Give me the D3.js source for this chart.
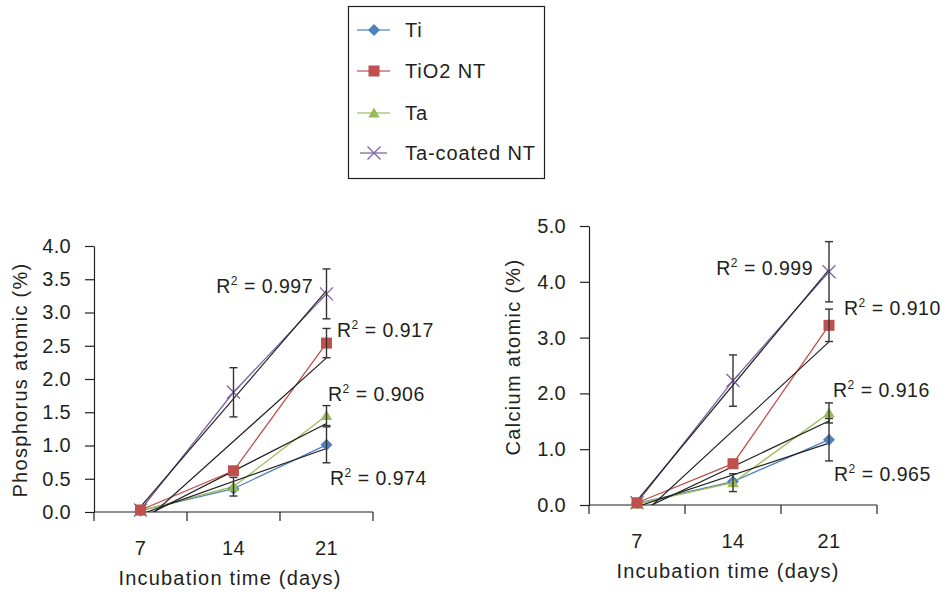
<!DOCTYPE html>
<html>
<head>
<meta charset="utf-8">
<script src="https://cdn.jsdelivr.net/npm/d3@7"></script>
<style>
  body { margin: 0; background: #fff; }
  text { font-family: 'Liberation Sans', Arial, sans-serif; fill: #231f20; }
</style>
</head>
<body>
<script>
// Categories and series
const days = [7, 14, 21];
const seriesNames = ['Ti', 'TiO2 NT', 'Ta', 'Ta-coated NT'];
const seriesColors = ['#4f81bd', '#c0504d', '#9bbb59', '#8064a2'];

// Phosphorus atomic (%) per series: Ti, TiO2 NT, Ta, Ta-coated NT
const phosValues = [
  [0.02, 0.35, 1.01],
  [0.03, 0.62, 2.54],
  [0.02, 0.38, 1.45],
  [0.03, 1.80, 3.28]
];
const phosErrors = [
  [0, 0, 0.27],
  [0, 0, 0.22],
  [0, 0.14, 0.15],
  [0, 0.37, 0.375]
];
const phosR2 = ['0.974', '0.917', '0.906', '0.997'];
const phosTicks = [0, 0.5, 1.0, 1.5, 2.0, 2.5, 3.0, 3.5, 4.0];

// Calcium atomic (%)
const caValues = [
  [0.03, 0.42, 1.17],
  [0.04, 0.74, 3.22],
  [0.02, 0.40, 1.65],
  [0.04, 2.23, 4.18]
];
const caErrors = [
  [0, 0, 0.38],
  [0, 0, 0.29],
  [0, 0.16, 0.18],
  [0, 0.46, 0.54]
];
const caR2 = ['0.965', '0.910', '0.916', '0.999'];
const caTicks = [0, 1.0, 2.0, 3.0, 4.0, 5.0];

// draw order of markers (red square ends up on top at day 7)
const markerOrder = [3, 0, 2, 1];

const svg = d3.select('body').append('svg')
  .attr('width', 946)
  .attr('height', 593);

// marker shapes, centred on 0,0
function drawMarker(g, i, color) {
  if (i === 0) {
    g.append('path').attr('d', 'M0,-6L6,0L0,6L-6,0Z').attr('fill', color);
  } else if (i === 1) {
    g.append('rect').attr('x', -5.5).attr('y', -5.5).attr('width', 11).attr('height', 11).attr('fill', color);
  } else if (i === 2) {
    g.append('path').attr('d', 'M0,-5.5L5.8,4.5L-5.8,4.5Z').attr('fill', color);
  } else {
    g.append('path').attr('d', 'M-6.5,-6.5L6.5,6.5M-6.5,6.5L6.5,-6.5')
      .attr('stroke', color).attr('stroke-width', 1.3).attr('fill', 'none');
  }
}

function linearFit(vals) {
  const xs = vals.map((d, i) => i + 1);
  const mx = d3.mean(xs), my = d3.mean(vals);
  const slope = d3.sum(xs, (x, i) => (x - mx) * (vals[i] - my)) / d3.sum(xs, x => (x - mx) ** 2);
  return { slope, intercept: my - slope * mx };
}

function drawPanel(cfg) {
  const x = d3.scaleBand().domain(days).range(cfg.xRange).padding(0);
  const y = d3.scaleLinear().domain(cfg.yDomain).range(cfg.yRange);
  const cx = d => x(d) + x.bandwidth() / 2;
  const g = svg.append('g');

  // y axis
  const yAxis = g.append('g')
    .attr('transform', `translate(${cfg.xRange[0]},0)`)
    .call(d3.axisLeft(y).tickValues(cfg.ticks).tickSize(9).tickSizeOuter(0)
      .tickPadding(14).tickFormat(d3.format('.1f')));
  yAxis.select('.domain').attr('stroke', '#231f20').attr('stroke-width', 1.2);
  yAxis.selectAll('.tick line').attr('stroke', '#231f20').attr('stroke-width', 1.2);
  yAxis.selectAll('.tick text').attr('font-size', 20).attr('font-family', null)
    .attr('fill', '#231f20').attr('letter-spacing', 0.3);

  // x axis line and boundary ticks
  const y0 = y(0);
  g.append('line')
    .attr('x1', cfg.xRange[0]).attr('x2', cfg.xRange[1])
    .attr('y1', y0).attr('y2', y0)
    .attr('stroke', '#231f20').attr('stroke-width', 1.2);
  const bounds = days.map(d => x(d)).concat([cfg.xRange[1]]);
  g.selectAll('.xtick').data(bounds).join('line')
    .attr('x1', d => d).attr('x2', d => d)
    .attr('y1', y0).attr('y2', y0 + 9)
    .attr('stroke', '#231f20').attr('stroke-width', 1.2);
  g.selectAll('.xlab').data(days).join('text')
    .attr('x', d => cx(d)).attr('y', y0 + 43)
    .attr('text-anchor', 'middle').attr('font-size', 20).attr('letter-spacing', 0.3)
    .text(d => d);

  // titles
  g.append('text')
    .attr('x', cfg.xTitleX).attr('y', y0 + 73)
    .attr('text-anchor', 'middle').attr('font-size', 20).attr('letter-spacing', 1.2)
    .text('Incubation time (days)');
  g.append('text')
    .attr('transform', `translate(${cfg.yTitleX},${cfg.yTitleY}) rotate(-90)`)
    .attr('text-anchor', 'middle').attr('dy', '0.35em').attr('font-size', 20).attr('letter-spacing', 1.3)
    .text(cfg.yTitle);

  // clip for trendlines
  const clipId = 'clip' + cfg.id;
  svg.append('clipPath').attr('id', clipId).append('rect')
    .attr('x', cfg.xRange[0]).attr('y', cfg.yRange[1] - 20)
    .attr('width', cfg.xRange[1] - cfg.xRange[0]).attr('height', y0 - cfg.yRange[1] + 20);

  const line = d3.line().x((d, i) => cx(days[i])).y(d => y(d));

  // series lines
  cfg.values.forEach((vals, s) => {
    g.append('path').datum(vals)
      .attr('d', line).attr('fill', 'none')
      .attr('stroke', seriesColors[s]).attr('stroke-width', 1.3);
  });

  // linear trendlines
  const tg = g.append('g').attr('clip-path', `url(#${clipId})`);
  cfg.values.forEach(vals => {
    const fit = linearFit(vals);
    tg.append('line')
      .attr('x1', cx(days[0])).attr('y1', y(fit.intercept + fit.slope))
      .attr('x2', cx(days[2])).attr('y2', y(fit.intercept + fit.slope * 3))
      .attr('stroke', '#231f20').attr('stroke-width', 1.2);
  });

  // markers
  markerOrder.forEach(s => {
    cfg.values[s].forEach((v, i) => {
      const mg = g.append('g').attr('transform', `translate(${cx(days[i])},${y(v)})`);
      drawMarker(mg, s, seriesColors[s]);
    });
  });

  // error bars
  cfg.values.forEach((vals, s) => {
    vals.forEach((v, i) => {
      const e = cfg.errors[s][i];
      if (!e) return;
      const px = cx(days[i]);
      const eg = g.append('g').attr('stroke', '#333').attr('stroke-width', 1.4);
      eg.append('line').attr('x1', px).attr('x2', px).attr('y1', y(v - e)).attr('y2', y(v + e));
      eg.append('line').attr('x1', px - 4).attr('x2', px + 4).attr('y1', y(v - e)).attr('y2', y(v - e));
      eg.append('line').attr('x1', px - 4).attr('x2', px + 4).attr('y1', y(v + e)).attr('y2', y(v + e));
    });
  });

  // R² labels
  cfg.r2.forEach((r, s) => {
    const p = cfg.r2Pos[s];
    const t = g.append('text')
      .attr('x', p[0]).attr('y', p[1]).attr('text-anchor', p[2])
      .attr('font-size', 19.5).attr('letter-spacing', 0.5);
    t.append('tspan').text('R');
    t.append('tspan').attr('font-size', 12).attr('dy', -8).text('2');
    t.append('tspan').attr('dy', 8).text(' = ' + r);
  });
}

drawPanel({
  id: 'p',
  xRange: [94, 373], yDomain: [0, 4], yRange: [512, 246],
  ticks: phosTicks, values: phosValues, errors: phosErrors, r2: phosR2,
  r2Pos: [[330, 485, 'start'], [337, 337, 'start'], [328, 401, 'start'], [313, 293, 'end']],
  yTitle: 'Phosphorus atomic (%)', yTitleX: 20, yTitleY: 380, xTitleX: 230
});

drawPanel({
  id: 'c',
  xRange: [589, 877], yDomain: [0, 5], yRange: [505, 226],
  ticks: caTicks, values: caValues, errors: caErrors, r2: caR2,
  r2Pos: [[834, 481, 'start'], [844, 315, 'start'], [833, 397, 'start'], [813, 275, 'end']],
  yTitle: 'Calcium atomic (%)', yTitleX: 513, yTitleY: 357, xTitleX: 728
});

// legend
const legend = svg.append('g');
legend.append('rect')
  .attr('x', 348.5).attr('y', 6.5).attr('width', 196).attr('height', 172)
  .attr('fill', '#fff').attr('stroke', '#231f20').attr('stroke-width', 1.2);
const legendY = [30, 71, 113, 153];
seriesNames.forEach((name, s) => {
  const ly = legendY[s];
  legend.append('line')
    .attr('x1', s === 3 ? 360 : 357).attr('x2', s === 3 ? 387 : 390)
    .attr('y1', ly).attr('y2', ly)
    .attr('stroke', seriesColors[s]).attr('stroke-width', 1.6).attr('stroke-opacity', 0.8);
  const mg = legend.append('g').attr('transform', `translate(374,${ly})`);
  drawMarker(mg, s, seriesColors[s]);
  legend.append('text')
    .attr('x', 405).attr('y', ly).attr('dy', '0.35em')
    .attr('font-size', 20).attr('letter-spacing', 0.9)
    .text(name);
});
</script>
</body>
</html>
